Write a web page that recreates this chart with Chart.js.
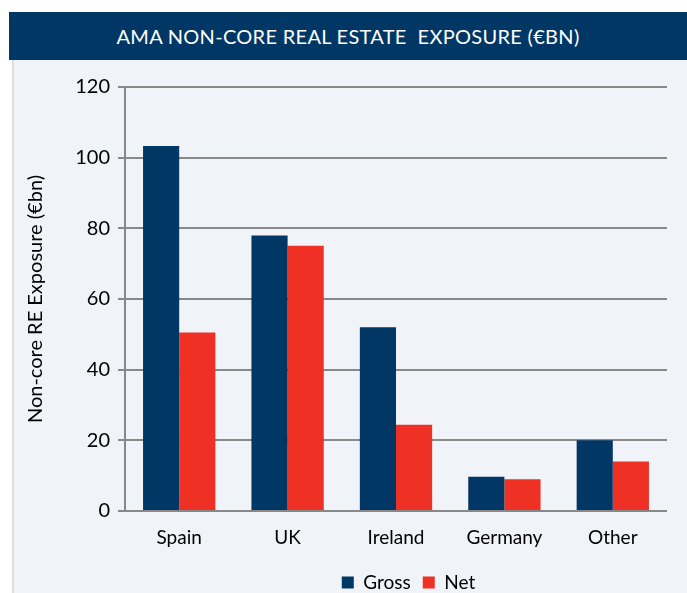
<!DOCTYPE html>
<html>
<head>
<meta charset="utf-8">
<script src="https://cdn.jsdelivr.net/npm/chart.js@4"></script>
<style>
  body { margin: 0; background: #fff; width: 687px; height: 593px; overflow: hidden; position: relative; }
  .title-bar {
    position: absolute; left: 9px; top: 12px; width: 678px; height: 48px;
    background: #003764; color: #fff;
    font-family: Lato, "Open Sans", sans-serif; font-size: 20px;
    display: flex; align-items: center; justify-content: center;
    white-space: pre; letter-spacing: 0.3px;
  }
  .panel {
    position: absolute; left: 12px; top: 60px; width: 675px; height: 533px;
    background: #f0f3f7; border-left: 2px solid #dcdee1;
  }
  #chart { position: absolute; left: 0; top: 0; }
</style>
</head>
<body>
<div class="title-bar">AMA NON-CORE REAL ESTATE  EXPOSURE (€BN)</div>
<div class="panel">
  <canvas id="chart" width="673" height="533"></canvas>
</div>
<script>
// chart data
const categories = ['Spain', 'UK', 'Ireland', 'Germany', 'Other'];
const grossValues = [103.3, 78.0, 52.0, 9.7, 20.0];
const netValues = [50.5, 75.1, 24.4, 9.0, 14.0];
const yTicks = [0, 20, 40, 60, 80, 100, 120];

const navy = '#003764';
const red = '#ee3124';
const gridGray = '#888888';
const fontFamily = 'Lato, "Open Sans", sans-serif';

// legend sits a little right of and below the default spot
const legendShift = {
  id: 'legendShift',
  afterLayout(chart) {
    const lg = chart.legend;
    if (!lg) return;
    lg.left += 68; lg.right += 68;
    lg.top += 9; lg.bottom += 9;
  }
};

const ctx = document.getElementById('chart').getContext('2d');
new Chart(ctx, {
  type: 'bar',
  data: {
    labels: categories,
    datasets: [
      { label: 'Gross', data: grossValues, backgroundColor: navy },
      { label: 'Net', data: netValues, backgroundColor: red }
    ]
  },
  options: {
    responsive: false,
    animation: false,
    layout: { padding: { top: 27, right: 20, left: 0, bottom: 0 } },
    datasets: {
      bar: { categoryPercentage: 0.667, barPercentage: 1.0 }
    },
    plugins: {
      legend: {
        position: 'bottom',
        labels: {
          color: '#000',
          font: { family: fontFamily, size: 19 },
          boxWidth: 12, boxHeight: 12, padding: 12
        }
      },
      tooltip: { enabled: false }
    },
    scales: {
      x: {
        grid: { display: false },
        border: { display: false },
        ticks: {
          color: '#000', padding: 7,
          font: { family: fontFamily, size: 19 }
        },
        afterFit: function(scale) { scale.height = 41; }
      },
      y: {
        min: 0, max: 120,
        afterBuildTicks: function(scale) {
          scale.ticks = yTicks.map(v => ({ value: v }));
        },
        grid: { color: gridGray, lineWidth: 2, tickLength: 7 },
        border: { color: gridGray, width: 2 },
        ticks: {
          color: '#000', padding: 8,
          font: { family: fontFamily, size: 20 }
        },
        title: {
          display: true, text: 'Non-core RE Exposure (€bn)', color: '#000',
          font: { family: fontFamily, size: 20 },
          padding: { top: 10, bottom: 0 }
        },
        afterFit: function(scale) { scale.width = 111; }
      }
    }
  },
  plugins: [legendShift]
});
</script>
</body>
</html>
